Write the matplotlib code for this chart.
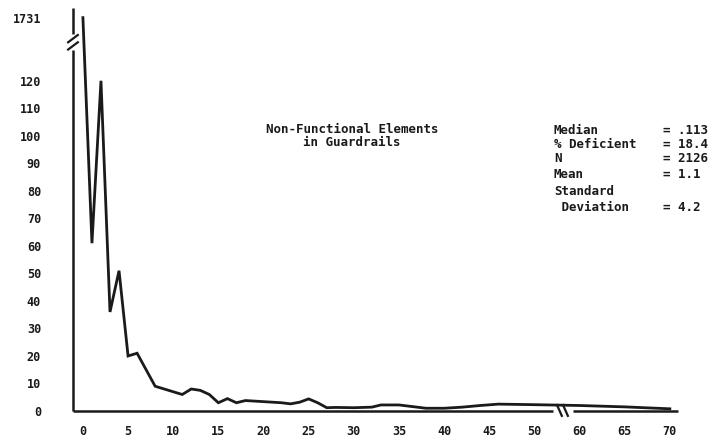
#!/usr/bin/env python3
"""Non-functional elements in guardrails: frequency curve with broken axes."""

import numpy as np
import matplotlib
matplotlib.use("Agg")
import matplotlib.pyplot as plt
from matplotlib.scale import FuncScale

# values
x_vals = [0, 1, 2, 3, 4, 5, 6, 7, 8, 9, 10, 11, 12, 13, 14, 15, 16, 17, 18, 19,
          20, 21, 22, 23, 24, 25, 26, 27, 28, 30, 32, 33, 35, 36, 38, 40, 42,
          44, 46, 48, 50, 60, 65, 70]
y_vals = [1731, 61, 123, 36, 51, 20, 21, 15, 9, 8, 7, 6, 8, 7.5, 6, 3, 4.5, 3,
          3.8, 3.6, 3.4, 3.2, 3.0, 2.6, 3.2, 4.4, 3.0, 1.2, 1.3, 1.2, 1.4, 2.2,
          2.2, 1.8, 1.0, 1.0, 1.4, 2.0, 2.5, 2.4, 2.3, 2.0, 1.5, 0.8]

x_ticks = [0, 5, 10, 15, 20, 25, 30, 35, 40, 45, 50, 60, 65, 70]
y_ticks = [0, 10, 20, 30, 40, 50, 60, 70, 80, 90, 100, 110, 120, 1731]

title_lines = ["Non-Functional Elements", "in Guardrails"]
stat_names = ["Median", "% Deficient", "N", "Mean", "Standard", " Deviation"]
stat_values = ["= .113", "= 18.4", "= 2126", "= 1.1", "", "= 4.2"]

FONT = "DejaVu Sans Mono"
INK = "#1a1a1a"


# x axis: 50..60 squeezed into half its width (break in the axis)
def fwd_x(x):
    x = np.asarray(x, dtype=float)
    return np.where(x <= 50, x, np.where(x >= 60, x - 5, 50 + (x - 50) * 0.5))


def inv_x(u):
    u = np.asarray(u, dtype=float)
    return np.where(u <= 50, u, np.where(u >= 55, u + 5, 50 + (u - 50) * 2))


# y axis: everything above 120 compressed so 1731 sits just above the break
Y_K = 23.0 / 1611.0


def fwd_y(v):
    v = np.asarray(v, dtype=float)
    return np.where(v <= 120, v, 120 + (v - 120) * Y_K)


def inv_y(d):
    d = np.asarray(d, dtype=float)
    return np.where(d <= 120, d, 120 + (d - 120) / Y_K)


def main() -> int:
    fig = plt.figure(figsize=(7.12, 4.4), dpi=100)
    ax = fig.add_axes([0.1025, 0.0659, 0.8497, 0.9159])

    ax.set_xscale(FuncScale(ax, (fwd_x, inv_x)))
    ax.set_yscale(FuncScale(ax, (fwd_y, inv_y)))

    ax.plot(x_vals, y_vals, color=INK, lw=2.0, solid_joinstyle="miter")

    ax.set_xlim(-1.1, 70.9)
    ax.set_ylim(0, 1976)

    ax.set_xticks(x_ticks)
    ax.set_xticklabels([str(t) for t in x_ticks])
    ax.set_yticks(y_ticks)
    ax.set_yticklabels([str(t) for t in y_ticks])
    ax.tick_params(axis="x", length=0, pad=10)
    ax.tick_params(axis="y", length=0, pad=23)
    for lab in ax.get_xticklabels() + ax.get_yticklabels():
        lab.set_fontfamily(FONT)
        lab.set_fontweight("bold")
        lab.set_fontsize(8.5)
        lab.set_color(INK)

    for s in ax.spines.values():
        s.set_visible(False)

    # hand-drawn axes with breaks
    kw = dict(transform=ax.transAxes, color=INK, lw=1.8, clip_on=False,
              solid_capstyle="butt")
    ax.plot([0, 0], [0, 0.895], **kw)
    ax.plot([0, 0], [0.935, 1.0], **kw)
    ax.plot([0.0, 0.793], [0, 0], **kw)
    ax.plot([0.826, 1.0], [0, 0], **kw)
    # break marks
    mk = dict(transform=ax.transAxes, color=INK, lw=1.6, clip_on=False)
    for dy in (0.0, 0.018):
        ax.plot([-0.008, 0.008], [0.897 + dy, 0.915 + dy], **mk)
    for dx in (0.0, 0.01):
        ax.plot([0.800 + dx, 0.808 + dx], [0.015, -0.012], **mk)

    W, H = 712.0, 440.0
    txt = dict(fontfamily=FONT, fontweight="bold", fontsize=9, color=INK,
               va="center")
    for line, py in zip(title_lines, [129, 143]):
        fig.text(352 / W, 1 - py / H, line, ha="center", **txt)

    ys = [130, 144.5, 159, 175, 191, 207]
    for name, val, py in zip(stat_names, stat_values, ys):
        fig.text(554 / W, 1 - py / H, name, ha="left", **txt)
        if val:
            fig.text(663 / W, 1 - py / H, val, ha="left", **txt)

    fig.savefig("out.png", dpi=100, facecolor="white")
    return 0


if __name__ == "__main__":
    raise SystemExit(main())
